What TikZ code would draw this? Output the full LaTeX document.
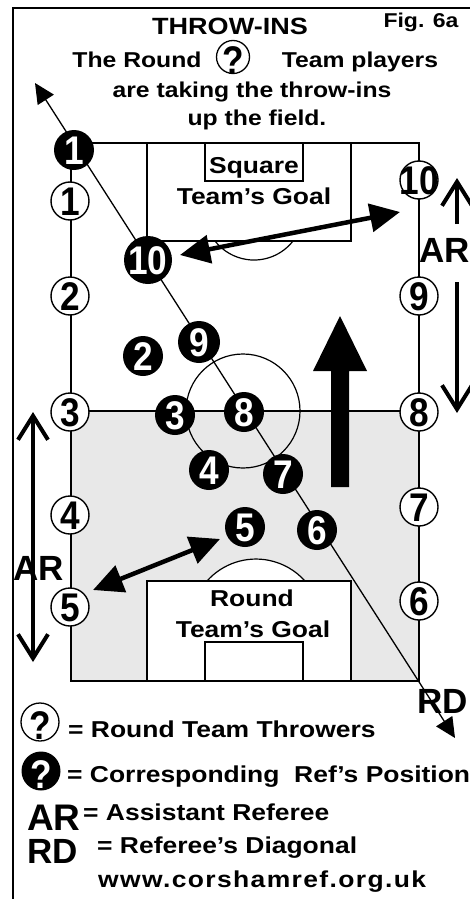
\documentclass[tikz,border=0pt]{standalone}
\usepackage{fontspec}
\setmainfont{Liberation Sans}[FakeStretch=1.15]
\newfontfamily\digits{Liberation Sans}[FakeStretch=0.88]
\newfontfamily\tags{Liberation Sans}
\usetikzlibrary{arrows.meta}

% number set in a zero sized box so the circle keeps its size
\newcommand{\num}[1]{\makebox[0pt]{\raisebox{-.36em}[0pt][0pt]{#1}}}
% the question mark sits a little low in its circle
\newcommand{\qmark}{\makebox[0pt]{\raisebox{\dimexpr-.36em-3pt\relax}[0pt][0pt]{?}}}

\tikzset{
  field/.style={line width=1.2pt},
  thrower/.style={circle,draw,fill=white,line width=1.4pt,minimum size=38pt,inner sep=0pt,
    font=\digits\bfseries\fontsize{40}{40}\selectfont},
  refpos/.style={circle,fill=black,text=white,minimum size=40pt,inner sep=0pt,
    font=\digits\bfseries\fontsize{40}{40}\selectfont},
  caption/.style={inner sep=0pt,anchor=base,font=\bfseries\fontsize{23}{23}\selectfont},
  keytext/.style={inner sep=0pt,anchor=base west,font=\bfseries\fontsize{23}{23}\selectfont},
  tag/.style={inner sep=0pt,anchor=base west,font=\tags\bfseries\fontsize{35}{35}\selectfont},
  diag/.style={line width=1.3pt,>={Triangle[length=20pt,width=19pt]},<->},
  dblarrow/.style={line width=4.5pt,>={Triangle[length=30pt,width=28pt]},<->},
  arline/.style={line width=4pt,->,>={Straight Barb[length=24pt,width=30pt]}},
}

\begin{document}
\begin{tikzpicture}[x=1pt,y=-1pt]
\useasboundingbox (0,0) rectangle (470,899);
\draw[line width=2pt] (470,8) -- (13,8) -- (13,899);

% heading
\node[caption,font=\bfseries\fontsize{23.5}{23.5}\selectfont] (title) at (230,35) {THROW-INS};
\node[caption,font=\bfseries\fontsize{20}{20}\selectfont] (fig) at (421,28) {Fig. 6a};
\node[caption,font=\bfseries\fontsize{21.5}{21.5}\selectfont] (hdA) at (137,67) {The Round};
\node[thrower,minimum size=33pt,line width=1.3pt] (hdq) at (233,57) {\qmark};
\node[caption,font=\bfseries\fontsize{21.5}{21.5}\selectfont] (hdB) at (360,67) {Team players};
\node[caption,font=\bfseries\fontsize{21.5}{21.5}\selectfont] (hdC) at (252,97) {are taking the throw-ins};
\node[caption,font=\bfseries\fontsize{21.5}{21.5}\selectfont] (hdD) at (257,125) {up the field.};

% pitch
\fill[black!9] (71,411) rectangle (419,681);
\draw[field] (71,143) rectangle (419,681);
\draw[field] (71,411) -- (419,411);
\draw[field] (243,411) circle (57);
\draw[field] (147,143) rectangle (351,241);
\draw[field] (205,143) rectangle (303,181);
\draw[field] (293,241) arc[start angle=38,end angle=142,radius=49.5];
\filldraw[field,fill=white] (207,581) arc[start angle=-138.3,end angle=-41.7,radius=65.6] -- cycle;
\filldraw[field,fill=white] (147,581) rectangle (351,681);
\draw[field] (205,642) rectangle (303,681);
\node[caption] (sqA) at (254,173) {Square};
\node[caption] (sqB) at (254,204) {Team’s Goal};
\node[caption] (rdA) at (252,606) {Round};
\node[caption] (rdB) at (253,637) {Team’s Goal};

% referee's diagonal
\coordinate (rdtop) at (35,83);
\coordinate (rdend) at (455,738);
\draw[diag] (rdtop) -- (rdend);

% throwers on the touchlines
\node[thrower] (t1) at (70,201) {\num{1}};
\node[thrower] (t2) at (70,296) {\num{2}};
\node[thrower] (t3) at (70,412) {\num{3}};
\node[thrower] (t4) at (70,515) {\num{4}};
\node[thrower] (t5) at (70,607) {\num{5}};
\node[thrower] (t6) at (419,601) {\num{6}};
\node[thrower] (t7) at (419,507) {\num{7}};
\node[thrower] (t8) at (419,412) {\num{8}};
\node[thrower] (t9) at (419,296) {\num{9}};
\node[thrower] (t10) at (419,180) {\num{10}};

% referee positions
\node[refpos] (r1) at (74,150) {\num{1}};
\node[refpos,minimum size=48pt] (r10) at (148,260) {\num{10}};
\node[refpos] (r2) at (143,356) {\num{2}};
\node[refpos,minimum size=42pt] (r9) at (199,342) {\num{9}};
\node[refpos] (r3) at (175,415) {\num{3}};
\node[refpos] (r8) at (244,412) {\num{8}};
\node[refpos] (r4) at (209,470) {\num{4}};
\node[refpos] (r7) at (283,474) {\num{7}};
\node[refpos] (r5) at (245,527) {\num{5}};
\node[refpos] (r6) at (317,530) {\num{6}};

% switches of play
\coordinate (swA) at (180,255);
\coordinate (swB) at (400,212);
\coordinate (swC) at (93,590);
\coordinate (swD) at (220,539);
\draw[dblarrow] (swA) -- (swB);
\draw[dblarrow] (swC) -- (swD);

% direction of attack
\fill (331,487) -- (331,371) -- (313,371) -- (340,316) -- (367,371) -- (349,371) -- (349,487) -- cycle;

% assistant referees
\node[tag] (arR) at (419,262) {AR};
\coordinate (arRa) at (457,224);
\coordinate (arRb) at (457,178);
\coordinate (arRc) at (457,282);
\coordinate (arRd) at (457,413);
\draw[arline] (arRa) -- (arRb);
\draw[arline] (arRc) -- (arRd);
\coordinate (arLa) at (33,412);
\coordinate (arLb) at (33,662);
\draw[arline,<->] (arLa) -- (arLb);
\node[tag] (arL) at (13,580) {AR};
\node[tag] (rdR) at (417,713) {RD};

% key
\node[thrower,line width=1.3pt] (keyA) at (40,722) {\qmark};
\node[keytext] (keyAt) at (68,737) {= Round Team Throwers};
\node[refpos,minimum size=39pt] (keyB) at (41,771) {\qmark};
\node[keytext] (keyBt) at (67,782) {= Corresponding\ \ Ref’s Position};
\node[tag,font=\tags\bfseries\fontsize{37}{37}\selectfont] (keyC) at (27,830) {AR};
\node[keytext] (keyCt) at (83,820) {= Assistant Referee};
\node[tag] (keyD) at (27,863) {RD};
\node[keytext] (keyDt) at (97,853) {= Referee’s Diagonal};
\node[keytext,font=\bfseries\fontsize{23}{23}\selectfont\addfontfeatures{LetterSpace=6}] (web) at (98,887) {www.corshamref.org.uk};
\end{tikzpicture}
\end{document}
